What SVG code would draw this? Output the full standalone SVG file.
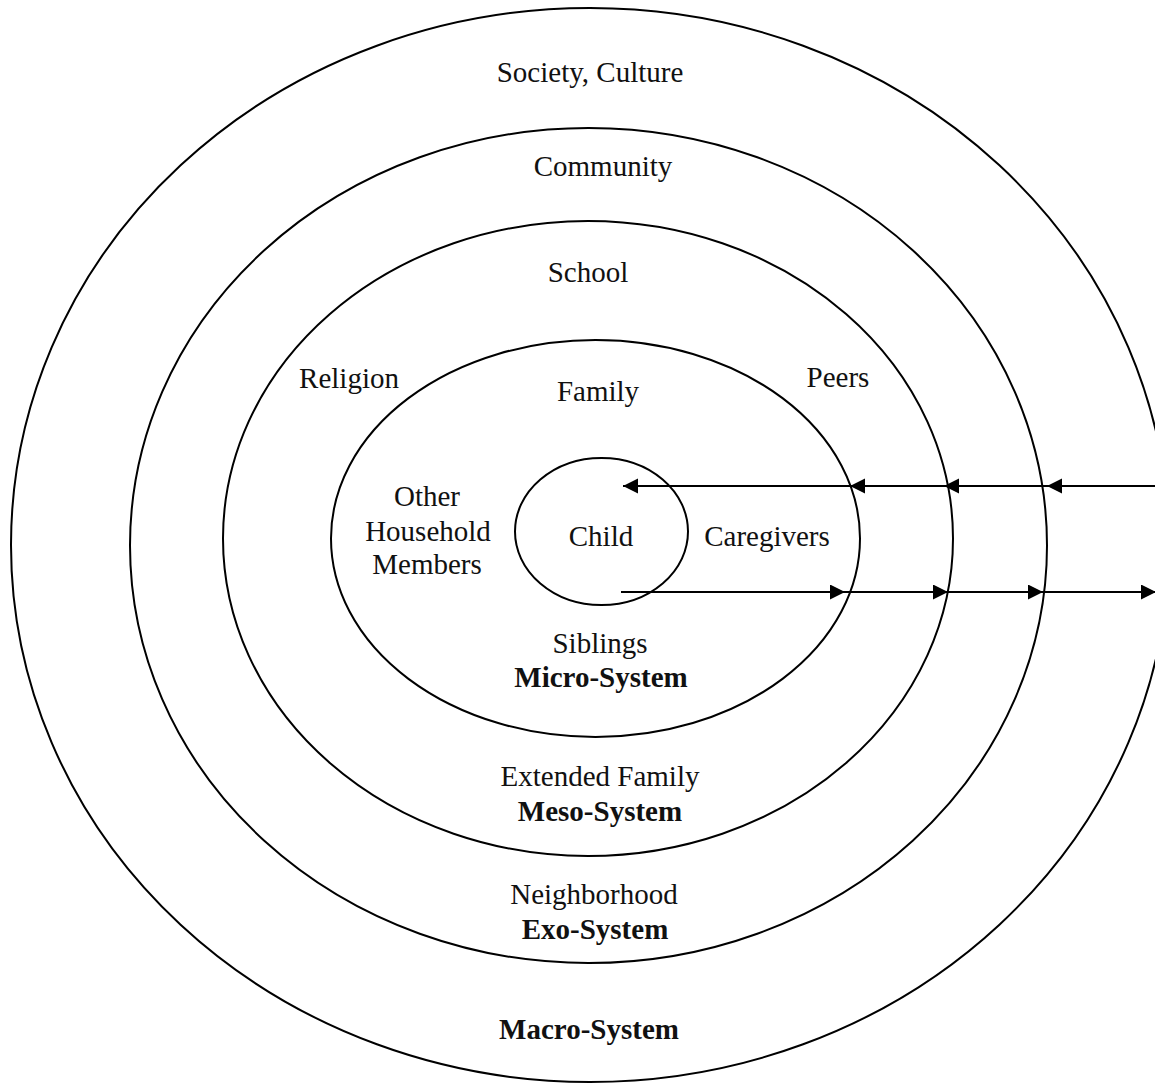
<svg xmlns="http://www.w3.org/2000/svg" width="1155" height="1083" viewBox="0 0 1155 1083">
<style>
.ring{fill:none;stroke:#000;stroke-width:2}
.t{font-family:"Liberation Serif","Times New Roman",serif;font-size:29px;fill:#111;text-anchor:middle}
.b{font-weight:bold}
.c{stroke:#000;stroke-width:2;fill:none;marker-end:url(#ah)}
</style>
<defs>
<marker id="ah" markerUnits="userSpaceOnUse" markerWidth="16" markerHeight="16" refX="15" refY="7.5" orient="auto">
<path d="M0,0 L15,7.5 L0,15 z" fill="#000"/>
</marker>
</defs>
<rect width="1155" height="1083" fill="#fff"/>
<g id="macro">
<ellipse class="ring" cx="590" cy="545" rx="579" ry="537"/>
<text class="t" x="590" y="82">Society, Culture</text>
<text class="t b" x="589" y="1039">Macro-System</text>
</g>
<g id="exo">
<ellipse class="ring" cx="588.5" cy="545.5" rx="458.5" ry="417.5"/>
<text class="t" x="603" y="176">Community</text>
<text class="t" x="594" y="904">Neighborhood</text>
<text class="t b" x="595" y="939">Exo-System</text>
</g>
<g id="meso">
<ellipse class="ring" cx="588" cy="538.5" rx="365" ry="317.5"/>
<text class="t" x="588" y="282">School</text>
<text class="t" x="349" y="388">Religion</text>
<text class="t" x="838" y="387">Peers</text>
<text class="t" x="600" y="786">Extended Family</text>
<text class="t b" x="600" y="821">Meso-System</text>
</g>
<g id="micro">
<ellipse class="ring" cx="595.5" cy="538.5" rx="264.5" ry="198.5"/>
<text class="t" x="598" y="401">Family</text>
<text class="t" x="427" y="506">Other</text>
<text class="t" x="428" y="541">Household</text>
<text class="t" x="427" y="574">Members</text>
<text class="t" x="767" y="546">Caregivers</text>
<text class="t" x="600" y="653">Siblings</text>
<text class="t b" x="601" y="687">Micro-System</text>
</g>
<g id="child">
<ellipse class="ring" cx="601.5" cy="531.5" rx="86.5" ry="73.5"/>
<text class="t" x="601" y="546">Child</text>
</g>
<g id="connectors">
<line class="c" x1="1160" y1="486" x2="1047" y2="486"/>
<line class="c" x1="1047" y1="486" x2="944" y2="486"/>
<line class="c" x1="944" y1="486" x2="850" y2="486"/>
<line class="c" x1="850" y1="486" x2="623" y2="486"/>
<line class="c" x1="621" y1="592" x2="845" y2="592"/>
<line class="c" x1="845" y1="592" x2="948" y2="592"/>
<line class="c" x1="948" y1="592" x2="1043" y2="592"/>
<line class="c" x1="1043" y1="592" x2="1156" y2="592"/>
</g>
</svg>
